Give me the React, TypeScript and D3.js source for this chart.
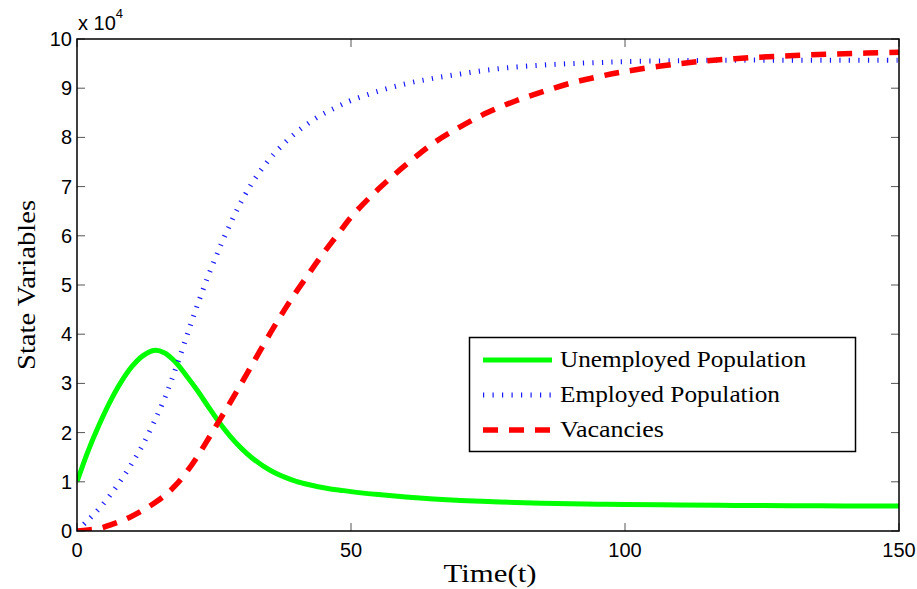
import React, { useEffect, useRef } from "react";
import * as d3 from "d3";

// time points
const time = [0, 2, 4, 6, 8, 10, 12, 14, 16, 18, 20, 22, 24, 26, 28, 30, 32, 34, 36, 38, 40, 42, 44, 46, 48, 50, 55, 60, 65, 70, 75, 80, 85, 90, 95, 100, 110, 120, 130, 140, 150];

// values in units of 10^4
const unemployed = [1.0, 1.62, 2.15, 2.62, 3.02, 3.34, 3.56, 3.67, 3.62, 3.43, 3.15, 2.85, 2.52, 2.2, 1.92, 1.68, 1.48, 1.32, 1.19, 1.09, 1.01, 0.95, 0.9, 0.86, 0.83, 0.8, 0.74, 0.69, 0.65, 0.62, 0.6, 0.58, 0.565, 0.555, 0.545, 0.54, 0.53, 0.52, 0.515, 0.51, 0.51];
const employed = [0, 0.22, 0.45, 0.72, 1.03, 1.37, 1.75, 2.2, 2.7, 3.3, 3.95, 4.6, 5.2, 5.75, 6.25, 6.7, 7.08, 7.4, 7.67, 7.9, 8.1, 8.27, 8.42, 8.54, 8.65, 8.75, 8.94, 9.09, 9.2, 9.29, 9.37, 9.43, 9.47, 9.5, 9.52, 9.54, 9.56, 9.57, 9.57, 9.57, 9.57];
const vacancies = [0, 0.02, 0.05, 0.12, 0.2, 0.3, 0.42, 0.56, 0.72, 0.93, 1.2, 1.52, 1.88, 2.25, 2.62, 3.0, 3.39, 3.78, 4.16, 4.52, 4.86, 5.18, 5.5, 5.8, 6.09, 6.38, 6.95, 7.44, 7.88, 8.22, 8.51, 8.74, 8.93, 9.1, 9.23, 9.34, 9.5, 9.6, 9.66, 9.7, 9.73];

const xTicks = [0, 50, 100, 150];
const yTicks = [0, 1, 2, 3, 4, 5, 6, 7, 8, 9, 10];

const seriesNames = ["Unemployed Population", "Employed Population", "Vacancies"];

export default function App() {
  const ref = useRef<SVGSVGElement>(null);

  useEffect(() => {
    const width = 917, height = 589;
    const margin = { top: 39, right: 18, bottom: 58, left: 77 };
    const svg = d3.select(ref.current);
    svg.selectAll("*").remove();

    const x = d3.scaleLinear().domain([0, 150]).range([margin.left, width - margin.right]);
    const y = d3.scaleLinear().domain([0, 10]).range([height - margin.bottom, margin.top]);

    const sans = "'Liberation Sans', Arial, sans-serif";
    const serif = "'Liberation Serif', 'Times New Roman', serif";

    svg.append("rect").attr("width", width).attr("height", height).attr("fill", "white");

    svg.append("clipPath").attr("id", "plotclip")
      .append("rect")
      .attr("x", x(0)).attr("y", y(10))
      .attr("width", x(150) - x(0)).attr("height", y(0) - y(10));

    // employed uses short perpendicular ticks, like the matlab ':' rendering
    const styles = [
      { data: unemployed, color: "#00ff00", w: 5, dash: null as string | null },
      { data: employed, color: "#1a1aff", w: 5, dash: "1.2,8.3" },
      { data: vacancies, color: "#ff0000", w: 5.5, dash: "15,11" },
    ];

    const line = d3.line<number>()
      .x((d, i) => x(time[i]))
      .y(d => y(d))
      .curve(d3.curveCatmullRom.alpha(0.5));

    const plot = svg.append("g").attr("clip-path", "url(#plotclip)");
    styles.forEach(s => {
      plot.append("path")
        .datum(s.data)
        .attr("fill", "none")
        .attr("stroke", s.color)
        .attr("stroke-width", s.w)
        .attr("stroke-dasharray", s.dash)
        .attr("d", line);
    });

    // box + inward ticks (matlab style)
    const x0 = x(0), x1 = x(150), y0 = y(0), y1 = y(10);
    const tl = 8;
    const ax = svg.append("g").attr("stroke", "#000").attr("stroke-width", 1);
    xTicks.forEach(t => {
      ax.append("line").attr("x1", x(t)).attr("x2", x(t)).attr("y1", y0).attr("y2", y0 - tl).attr("stroke", "#555");
      ax.append("line").attr("x1", x(t)).attr("x2", x(t)).attr("y1", y1).attr("y2", y1 + tl).attr("stroke", "#555");
    });
    yTicks.forEach(t => {
      ax.append("line").attr("x1", x0).attr("x2", x0 + tl).attr("y1", y(t)).attr("y2", y(t)).attr("stroke", "#555");
      ax.append("line").attr("x1", x1).attr("x2", x1 - tl).attr("y1", y(t)).attr("y2", y(t)).attr("stroke", "#555");
    });
    ax.append("rect").attr("x", x0).attr("y", y1).attr("width", x1 - x0).attr("height", y0 - y1)
      .attr("fill", "none").attr("stroke-width", 1.5);

    svg.selectAll(".xlab").data(xTicks).enter().append("text")
      .attr("x", d => x(d)).attr("y", y0 + 26)
      .attr("text-anchor", "middle")
      .attr("font-family", sans).attr("font-size", 20)
      .text(d => d);

    svg.selectAll(".ylab").data(yTicks).enter().append("text")
      .attr("x", x0 - 5).attr("y", d => y(d) + 7)
      .attr("text-anchor", "end")
      .attr("font-family", sans).attr("font-size", 20)
      .text(d => d);

    const exp = svg.append("text").attr("x", x0 + 1).attr("y", 30)
      .attr("font-family", sans).attr("font-size", 20);
    exp.append("tspan").text("x 10");
    exp.append("tspan").attr("dy", -12).attr("font-size", 13).text("4");

    svg.append("text")
      .attr("x", 490).attr("y", 582)
      .attr("text-anchor", "middle")
      .attr("font-family", serif).attr("font-size", 26)
      .attr("textLength", 93).attr("lengthAdjust", "spacingAndGlyphs")
      .text("Time(t)");

    svg.append("text")
      .attr("transform", `translate(35,${(y0 + y1) / 2}) rotate(-90)`)
      .attr("text-anchor", "middle")
      .attr("font-family", serif).attr("font-size", 26)
      .attr("textLength", 170).attr("lengthAdjust", "spacingAndGlyphs")
      .text("State Variables");

    // legend
    const lg = svg.append("g");
    lg.append("rect").attr("x", 469.5).attr("y", 337.5).attr("width", 386).attr("height", 114)
      .attr("fill", "white").attr("stroke", "#000").attr("stroke-width", 1.5);
    const lens = [246, 220, 104];
    styles.forEach((s, i) => {
      const ly = 360 + i * 35;
      lg.append("line")
        .attr("x1", 483).attr("x2", 552).attr("y1", ly).attr("y2", ly)
        .attr("stroke", s.color).attr("stroke-width", s.w)
        .attr("stroke-dasharray", s.dash);
      lg.append("text")
        .attr("x", 560).attr("y", ly + 7)
        .attr("font-family", serif).attr("font-size", 23)
        .attr("textLength", lens[i]).attr("lengthAdjust", "spacingAndGlyphs")
        .text(seriesNames[i]);
    });
  }, []);

  return (
    <svg ref={ref} width={917} height={589}
      style={{ position: "absolute", left: 0, top: 0 }} />
  );
}
